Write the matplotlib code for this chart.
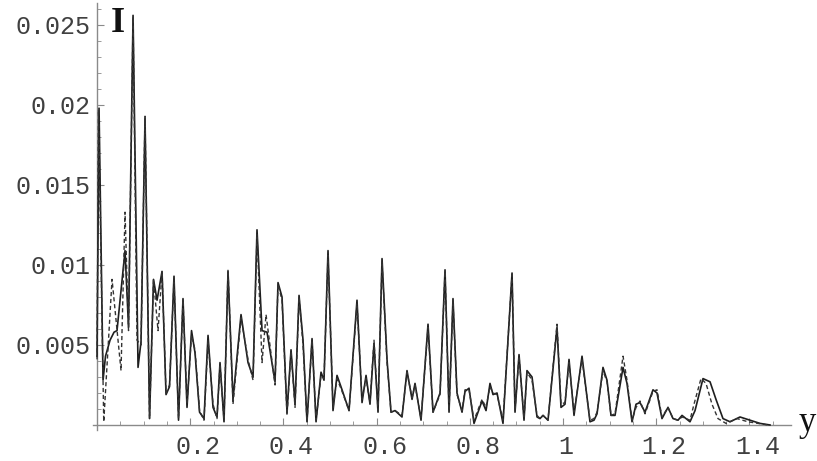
import matplotlib
matplotlib.use("Agg")
import matplotlib.pyplot as plt
import matplotlib.transforms as mtransforms
import numpy as np

# solid curve
y_solid = [0.000, 0.0043, 0.0129, 0.0182, 0.0279, 0.0365, 0.0429, 0.0601, 0.0676, 0.0773,
           0.0880, 0.0944, 0.1030, 0.1127, 0.1212, 0.1288, 0.1395, 0.1481, 0.1556, 0.1652,
           0.1749, 0.1845, 0.1931, 0.2028, 0.2103, 0.2200, 0.2296, 0.2382, 0.2489, 0.2575,
           0.2639, 0.2725, 0.2811, 0.2918, 0.3090, 0.3240, 0.3348, 0.3433, 0.3541, 0.3648,
           0.3820, 0.3884, 0.3970, 0.4077, 0.4163, 0.4249, 0.4335, 0.4421, 0.4506, 0.4614,
           0.4700, 0.4807, 0.4871, 0.4957, 0.5064, 0.5150, 0.5258, 0.5408, 0.5579, 0.5687,
           0.5773, 0.5858, 0.5944, 0.6030, 0.6116, 0.6223, 0.6309, 0.6395, 0.6545, 0.6652,
           0.6760, 0.6824, 0.6953, 0.7103, 0.7210, 0.7361, 0.7468, 0.7554, 0.7639, 0.7725,
           0.7833, 0.7897, 0.7983, 0.8090, 0.8262, 0.8348, 0.8433, 0.8498, 0.8584, 0.8712,
           0.8906, 0.8970, 0.9056, 0.9163, 0.9227, 0.9335, 0.9442, 0.9506, 0.9571, 0.9678,
           0.9871, 0.9957, 1.0043, 1.0129, 1.0236, 1.0408, 1.0579, 1.0665, 1.0730, 1.0858,
           1.0944, 1.1030, 1.1116, 1.1288, 1.1373, 1.1481, 1.1567, 1.1652, 1.1760, 1.1931,
           1.2017, 1.2124, 1.2253, 1.2361, 1.2468, 1.2554, 1.2639, 1.2725, 1.2833, 1.3004,
           1.3155, 1.3283, 1.3433, 1.3584, 1.3798, 1.4013, 1.4227, 1.4442]
I_solid = [0.0043, 0.0198, 0.0028, 0.0043, 0.0053, 0.0058, 0.0059, 0.0109, 0.0061, 0.0256,
           0.0036, 0.0052, 0.0192, 0.0004, 0.0091, 0.0078, 0.0096, 0.0019, 0.0024, 0.0093,
           0.0003, 0.0079, 0.0011, 0.0059, 0.0045, 0.0008, 0.0004, 0.0056, 0.0011, 0.0005,
           0.0039, 0.0002, 0.0096, 0.0016, 0.0069, 0.0039, 0.0030, 0.0122, 0.0059, 0.0058,
           0.0027, 0.0089, 0.0080, 0.0008, 0.0047, 0.0013, 0.0081, 0.0053, 0.0002, 0.0054,
           0.0002, 0.0033, 0.0028, 0.0109, 0.0009, 0.0031, 0.0022, 0.0009, 0.0078, 0.0014,
           0.0031, 0.0013, 0.0051, 0.0008, 0.0104, 0.0041, 0.0008, 0.0009, 0.0005, 0.0034,
           0.0016, 0.0026, 0.0003, 0.0063, 0.0008, 0.0020, 0.0097, 0.0008, 0.0079, 0.0020,
           0.0008, 0.0021, 0.0023, 0.0001, 0.0015, 0.0009, 0.0026, 0.0019, 0.0020, 0.0001,
           0.0095, 0.0008, 0.0044, 0.0003, 0.0034, 0.0030, 0.0005, 0.0004, 0.0006, 0.0003,
           0.0061, 0.0011, 0.0013, 0.0041, 0.0006, 0.0043, 0.0002, 0.0003, 0.0007, 0.0036,
           0.0028, 0.0006, 0.0006, 0.0036, 0.0026, 0.0002, 0.0013, 0.0014, 0.0008, 0.0022,
           0.0020, 0.0004, 0.0011, 0.0004, 0.0003, 0.0006, 0.0004, 0.0002, 0.0009, 0.0029,
           0.0027, 0.0016, 0.0004, 0.0002, 0.0005, 0.0003, 0.0001, 0.0000]

# dashed curve
y_dash = [0.000, 0.0032, 0.0144, 0.0322, 0.0515, 0.0601, 0.0676, 0.0773, 0.0858, 0.0944,
          0.1030, 0.1127, 0.1212, 0.1309, 0.1395, 0.1481, 0.1556, 0.1652, 0.1749, 0.1845,
          0.1931, 0.2028, 0.2103, 0.2200, 0.2296, 0.2382, 0.2489, 0.2575, 0.2639, 0.2725,
          0.2811, 0.2918, 0.3090, 0.3240, 0.3348, 0.3433, 0.3541, 0.3627, 0.3820, 0.3884,
          0.3970, 0.4077, 0.4163, 0.4249, 0.4335, 0.4421, 0.4506, 0.4614, 0.4700, 0.4807,
          0.4871, 0.4957, 0.5064, 0.5150, 0.5258, 0.5408, 0.5579, 0.5687, 0.5773, 0.5858,
          0.5944, 0.6030, 0.6116, 0.6223, 0.6309, 0.6395, 0.6545, 0.6652, 0.6760, 0.6824,
          0.6953, 0.7103, 0.7210, 0.7361, 0.7468, 0.7554, 0.7639, 0.7725, 0.7833, 0.7897,
          0.7983, 0.8090, 0.8262, 0.8348, 0.8433, 0.8498, 0.8584, 0.8712, 0.8906, 0.8970,
          0.9056, 0.9163, 0.9227, 0.9335, 0.9442, 0.9506, 0.9571, 0.9678, 0.9871, 0.9957,
          1.0043, 1.0129, 1.0236, 1.0408, 1.0579, 1.0665, 1.0730, 1.0858, 1.0944, 1.1030,
          1.1116, 1.1288, 1.1373, 1.1481, 1.1567, 1.1652, 1.1760, 1.1931, 1.2017, 1.2124,
          1.2253, 1.2361, 1.2468, 1.2554, 1.2639, 1.2725, 1.2811, 1.2961, 1.3069, 1.3197,
          1.3326, 1.3498, 1.3734, 1.3970, 1.4185, 1.4399]
I_dash = [0.0041, 0.0197, 0.0002, 0.0091, 0.0034, 0.0133, 0.0059, 0.0255, 0.0053, 0.0050,
          0.0193, 0.0004, 0.0091, 0.0059, 0.0096, 0.0020, 0.0025, 0.0091, 0.0004, 0.0078,
          0.0013, 0.0056, 0.0047, 0.0009, 0.0003, 0.0053, 0.0013, 0.0004, 0.0038, 0.0003,
          0.0097, 0.0013, 0.0067, 0.0041, 0.0028, 0.0119, 0.0039, 0.0069, 0.0025, 0.0088,
          0.0078, 0.0006, 0.0046, 0.0011, 0.0080, 0.0050, 0.0002, 0.0053, 0.0003, 0.0031,
          0.0029, 0.0106, 0.0011, 0.0029, 0.0021, 0.0009, 0.0076, 0.0016, 0.0029, 0.0014,
          0.0053, 0.0009, 0.0102, 0.0039, 0.0008, 0.0009, 0.0006, 0.0033, 0.0017, 0.0025,
          0.0004, 0.0061, 0.0008, 0.0019, 0.0096, 0.0009, 0.0077, 0.0019, 0.0009, 0.0022,
          0.0022, 0.0003, 0.0016, 0.0011, 0.0024, 0.0020, 0.0019, 0.0003, 0.0094, 0.0009,
          0.0043, 0.0004, 0.0033, 0.0028, 0.0006, 0.0004, 0.0006, 0.0003, 0.0063, 0.0013,
          0.0014, 0.0039, 0.0008, 0.0041, 0.0003, 0.0004, 0.0008, 0.0034, 0.0027, 0.0006,
          0.0007, 0.0043, 0.0028, 0.0003, 0.0011, 0.0015, 0.0007, 0.0021, 0.0022, 0.0005,
          0.0011, 0.0004, 0.0003, 0.0005, 0.0004, 0.0003, 0.0013, 0.0029, 0.0026, 0.0013,
          0.0004, 0.0001, 0.0004, 0.0002, 0.0001, 0.0000]

x_major = [0.2, 0.4, 0.6, 0.8, 1.0, 1.2, 1.4]
x_labels = ["0.2", "0.4", "0.6", "0.8", "1", "1.2", "1.4"]
i_major = [0.005, 0.01, 0.015, 0.02, 0.025]
i_labels = ["0.005", "0.01", "0.015", "0.02", "0.025"]

fig = plt.figure(figsize=(8.17, 4.61), dpi=100)
ax = fig.add_axes([0.1142, 0.0677, 0.8544, 0.9267])

ax.plot(y_solid, I_solid, color='#1e1e1e', lw=1.2, zorder=3)
ax.plot(y_dash, I_dash, color='#333333', lw=1.0, ls=(0, (3, 2)), zorder=4)

ax.set_xlim(-0.008, 1.49)
ax.set_ylim(-0.0003, 0.0264)

for s in ['top', 'right']:
    ax.spines[s].set_visible(False)
ax.spines['left'].set_position(('data', 0))
ax.spines['bottom'].set_position(('data', 0))
for s in ['left', 'bottom']:
    ax.spines[s].set_color('#8a8a8a')
    ax.spines[s].set_linewidth(1.0)

ax.set_xticks(x_major)
ax.set_xticklabels(x_labels)
ax.set_xticks([k * 0.05 for k in range(1, 30) if k % 4 != 0], minor=True)
ax.set_yticks(i_major)
ax.set_yticklabels(i_labels)
ax.set_yticks([k * 0.001 for k in range(1, 27) if k % 5 != 0], minor=True)

ax.tick_params(which='major', direction='in', length=5, width=0.8, color='#8a8a8a',
               labelsize=18, labelcolor='#404040')
ax.tick_params(which='minor', direction='in', length=3, width=0.6, color='#8a8a8a')
ax.tick_params(axis='x', which='major', pad=7)
ax.tick_params(axis='y', which='major', pad=5)
for lab in ax.get_xticklabels() + ax.get_yticklabels():
    lab.set_fontfamily('Liberation Mono')

# shift x tick labels a bit right like the original
for lab in ax.get_xticklabels():
    dx = 3 if lab.get_text() == "1" else 8
    lab.set_transform(lab.get_transform() + mtransforms.ScaledTranslation(dx / 100, 0, fig.dpi_scale_trans))

ax.text(0.044, 0.02456, 'I', fontsize=26, fontweight='bold', family='Liberation Serif',
        ha='center', va='baseline', color='#111111')
fig.text(807 / 817, 1 - 431 / 461, 'y', fontsize=25, family='Liberation Serif',
         ha='center', va='baseline', color='#111111')

fig.savefig('out.png', dpi=100, facecolor='white')
